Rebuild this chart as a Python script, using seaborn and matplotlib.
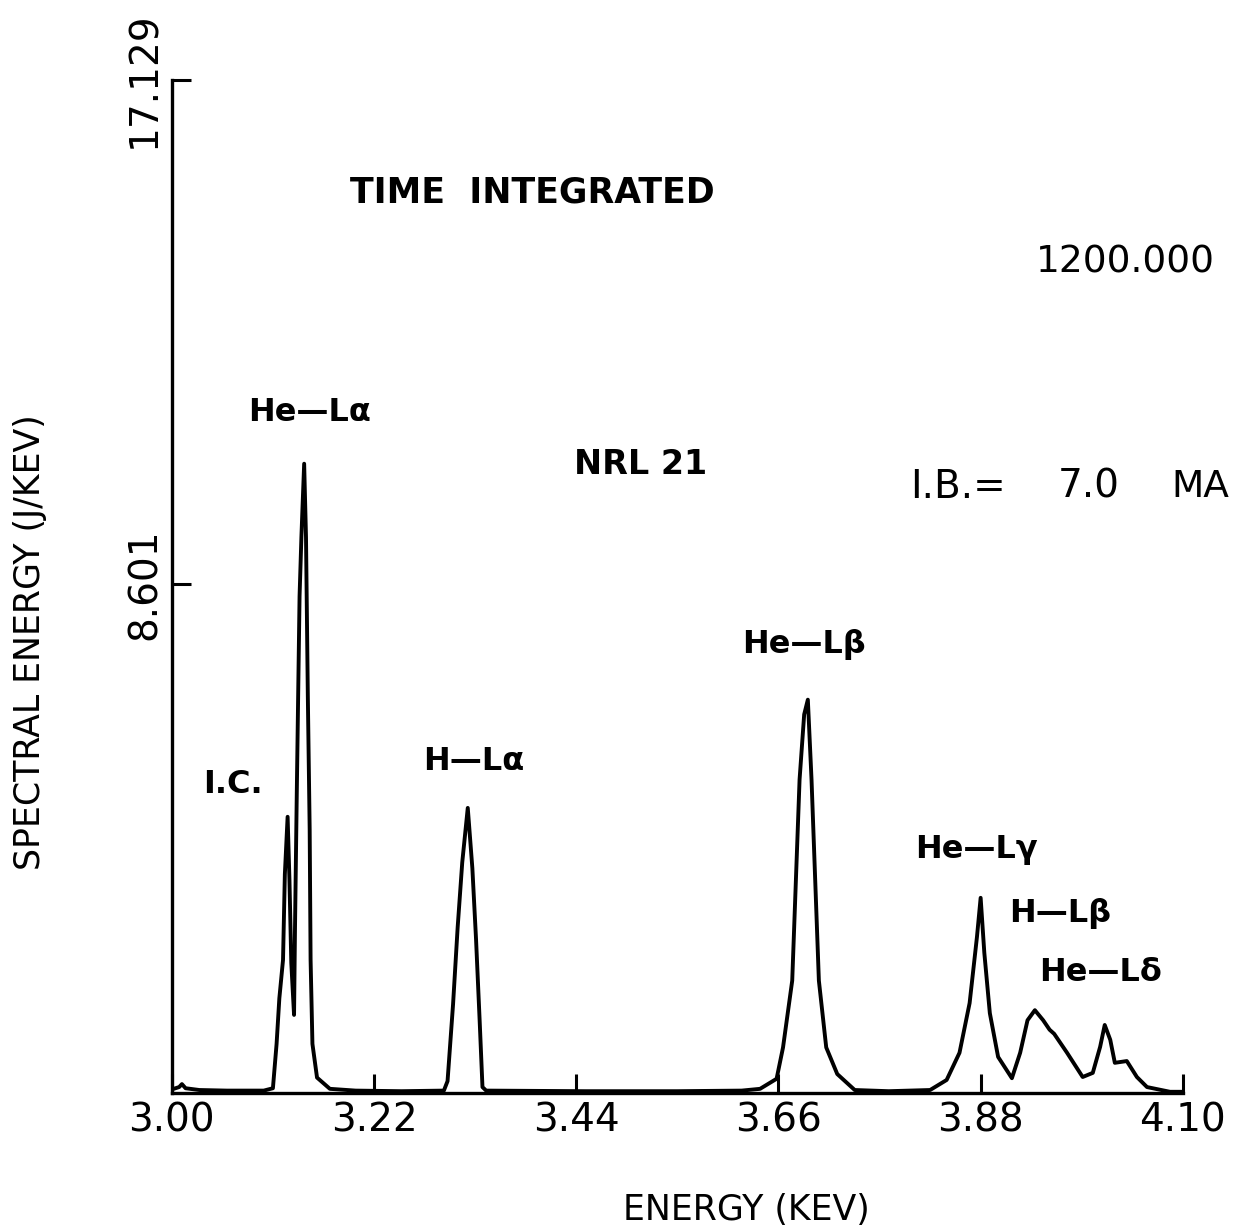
import numpy as np
import pandas as pd
import matplotlib
matplotlib.use("Agg")
import matplotlib.pyplot as plt
import seaborn as sns

# spectrum: energy (keV), spectral energy (J/keV)
energy = [3.000, 3.008, 3.011, 3.015, 3.030, 3.060, 3.100,
          3.110, 3.114, 3.117, 3.121, 3.123, 3.126, 3.128, 3.130, 3.133,
          3.134, 3.136, 3.139, 3.141, 3.144, 3.146, 3.148, 3.150, 3.151,
          3.153, 3.158, 3.172, 3.200, 3.250,
          3.296, 3.300, 3.306, 3.311, 3.316, 3.322, 3.327, 3.331, 3.335,
          3.338, 3.342, 3.450, 3.550, 3.620,
          3.640, 3.658, 3.665, 3.675, 3.679, 3.683, 3.688, 3.692, 3.696,
          3.700, 3.704, 3.712, 3.724, 3.743, 3.780,
          3.825, 3.843, 3.857, 3.868, 3.876, 3.880, 3.884, 3.890, 3.899,
          3.914, 3.923, 3.931, 3.939, 3.948, 3.955, 3.960, 3.974, 3.991,
          4.002, 4.010, 4.015, 4.021, 4.026, 4.039, 4.050, 4.061, 4.086, 4.100]
spectral = [0.06, 0.10, 0.15, 0.08, 0.05, 0.04, 0.04,
            0.08, 0.83, 1.60, 2.25, 3.70, 4.67, 3.60, 2.20, 1.32,
            2.75, 5.10, 8.40, 9.40, 10.64, 9.40, 6.70, 4.46, 2.25,
            0.83, 0.26, 0.07, 0.04, 0.03,
            0.04, 0.20, 1.50, 2.80, 3.90, 4.82, 3.80, 2.60, 1.20,
            0.10, 0.04, 0.03, 0.03, 0.04,
            0.07, 0.24, 0.77, 1.90, 3.60, 5.30, 6.40, 6.65, 5.30,
            3.60, 1.90, 0.77, 0.32, 0.05, 0.03,
            0.05, 0.22, 0.68, 1.52, 2.64, 3.30, 2.37, 1.35, 0.61,
            0.25, 0.68, 1.23, 1.40, 1.23, 1.07, 1.00, 0.68, 0.27,
            0.34, 0.78, 1.15, 0.90, 0.51, 0.54, 0.27, 0.10, 0.02, 0.02]

xticks = [3.00, 3.22, 3.44, 3.66, 3.88, 4.10]
xtick_labels = ["3.00", "3.22", "3.44", "3.66", "3.88", "4.10"]
yticks = [8.601, 17.129]
ytick_labels = ["8.601", "17.129"]

line_names = ["He\u2014L\u03b1", "I.C.", "H\u2014L\u03b1", "He\u2014L\u03b2",
              "He\u2014L\u03b3", "H\u2014L\u03b2", "He\u2014L\u03b4"]
name_x = [3.150, 3.066, 3.328, 3.688, 3.875, 3.966, 4.011]
name_y = [11.50, 5.21, 5.60, 7.58, 4.11, 3.04, 2.03]

df = pd.DataFrame({"energy": energy, "spectral": spectral})

sns.set_style("white")
plt.rcParams['font.family'] = ['DejaVu Sans']
plt.rcParams['text.color'] = 'black'
plt.rcParams['xtick.color'] = 'black'
plt.rcParams['ytick.color'] = 'black'

fig = plt.figure(figsize=(12.36, 12.30), dpi=100)
ax = fig.add_axes([0.139, 0.1114, 0.818, 0.8236])

sns.lineplot(data=df, x="energy", y="spectral", ax=ax, color="black",
             linewidth=2.8, sort=False, estimator=None)

ax.set_xlim(3.0, 4.10)
ax.set_ylim(0, 17.129)
ax.set_xticks(xticks)
ax.set_xticklabels(xtick_labels, fontsize=28)
ax.set_yticks(yticks)
ax.set_yticklabels(ytick_labels, fontsize=28, rotation=90, va="center")
ax.tick_params(direction="in", length=14, width=2.2, colors="black", pad=6,
               bottom=True, left=True)
ax.set_xlabel("")
ax.set_ylabel("")
for side in ["top", "right"]:
    ax.spines[side].set_visible(False)
for side in ["left", "bottom"]:
    ax.spines[side].set_linewidth(2.4)
    ax.spines[side].set_color("black")

fig.text(30 / 1236, 1 - 642 / 1230, "SPECTRAL ENERGY (J/KEV)", rotation=90,
         fontsize=25, ha="center", va="center")
fig.text(746 / 1236, 1 - 1210 / 1230, "ENERGY (KEV)", fontsize=25,
         ha="center", va="center")

ax.text(3.194, 15.22, "TIME  INTEGRATED", fontsize=25, fontweight="bold",
        ha="left", va="center")
ax.text(3.510, 10.62, "NRL 21", fontsize=24, fontweight="bold",
        ha="center", va="center")
ax.text(4.135, 14.05, "1200.000", fontsize=27, ha="right", va="center")
ax.text(3.803, 10.25, "I.B.=", fontsize=28, ha="left", va="center")
ax.text(3.964, 10.25, "7.0", fontsize=28, ha="left", va="center")
ax.text(4.151, 10.25, "MA", fontsize=27, ha="right", va="center")

for name, x, y in zip(line_names, name_x, name_y):
    ax.text(x, y, name, fontsize=23, fontweight="bold", ha="center", va="center")

fig.savefig("out.png", dpi=100)
